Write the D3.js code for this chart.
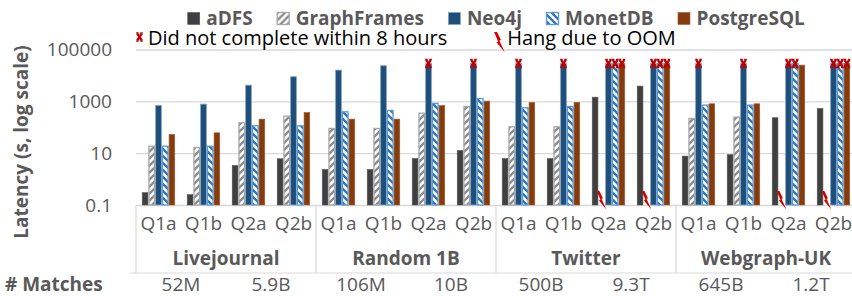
<!DOCTYPE html>
<html><head><meta charset="utf-8">
<script src="https://cdn.jsdelivr.net/npm/d3@7"></script>
<style>body{margin:0;background:#fff}svg{display:block}</style>
</head><body>
<svg id="c" width="852" height="296"></svg>
<script>
// ---------- data ----------
const queries = ["Q1a", "Q1b", "Q2a", "Q2b"];
const datasets = ["Livejournal", "Random 1B", "Twitter", "Webgraph-UK"];
const matches = ["52M", "5.9B", "106M", "10B", "500B", "9.3T", "645B", "1.2T"];
const series = ["aDFS", "GraphFrames", "Neo4j", "MonetDB", "PostgreSQL"];
const DNF = 28800; // did not complete within 8 hours (bar drawn to 8 h)
const aDFS        = [0.30, 0.25, 3.35, 6.1,  2.35, 2.35, 6.2, 12.7,  6.2, 6.2, 1450, 3870,  7.7, 8.7, 233, 530];
const GraphFrames = [18.6, 16.6, 149, 269,   90, 90, 350, 635,      104, 104, null, null,   218, 246, null, null];
const Neo4j       = [690, 780, 4200, 8900,   16000, 23600, DNF, DNF, DNF, DNF, DNF, DNF,    DNF, DNF, DNF, DNF];
const MonetDB     = [18.6, 18.6, 114, 114,   395, 445, 830, 1290,   565, 635, DNF, DNF,     715, 715, DNF, DNF];
const PostgreSQL  = [53, 61, 206, 370,       206, 206, 690, 1020,   910, 910, DNF, DNF,     805, 805, 25000, DNF];
const yTicks = [0.1, 10, 1000, 100000];
const yTickLabels = ["0.1", "10", "1000", "100000"];
const legendNotes = ["Did not complete within 8 hours", "Hang due to OOM"];

const values = {aDFS, GraphFrames, Neo4j, MonetDB, PostgreSQL};
const categories = d3.range(datasets.length * queries.length);

// ---------- setup ----------
const svg = d3.select("#c");
const FONT = "'Open Sans', 'Noto Sans', sans-serif";
const GRAY = "#595959";
const plotL = 136, plotR = 856, plotT = 49.5, plotB = 205;

const x0 = d3.scaleBand().domain(categories).range([plotL, plotR]).padding(0);
const x1 = d3.scaleBand().domain(series).range([0, x0.bandwidth()]).paddingInner(0.15).paddingOuter(0.93);
const y = d3.scaleLog().domain([0.1, 100000]).range([plotB, plotT]);
const xg = d3.scaleBand().domain(datasets).range([plotL, plotR]).padding(0);

// patterns
const defs = svg.append("defs");
function hatch(id, color, dir) {
  const p = defs.append("pattern").attr("id", id).attr("patternUnits", "userSpaceOnUse")
    .attr("width", 7).attr("height", 7);
  p.append("rect").attr("width", 7).attr("height", 7).attr("fill", "#fff");
  p.append("path").attr("d", dir === "up"
      ? "M-1,1 l2,-2 M0,7 l7,-7 M6,8 l2,-2"
      : "M-1,6 l2,2 M0,0 l7,7 M6,-1 l2,2")
    .attr("stroke", color).attr("stroke-width", 2.3);
}
hatch("hGray", "#8c8c8c", "up");
hatch("hBlue", "#2e75b6", "down");

const style = {
  aDFS:        {fill: "#404040", stroke: "#555", sw: 0.6},
  GraphFrames: {fill: "url(#hGray)", stroke: "#a6a6a6", sw: 1.3},
  Neo4j:       {fill: "#1f4e79", stroke: "#7fa3c8", sw: 0.8},
  MonetDB:     {fill: "url(#hBlue)", stroke: "#5b9bd5", sw: 1.3},
  PostgreSQL:  {fill: "#843c0c", stroke: "#a0603a", sw: 0.6}
};

// ---------- grid / y axis ----------
const yAxis = d3.axisLeft(y).tickValues(yTicks)
  .tickFormat((d, i) => yTickLabels[i])
  .tickSize(-(plotR - plotL)).tickPadding(24);
const gy = svg.append("g").attr("transform", `translate(${plotL},0)`).call(yAxis);
gy.select(".domain").remove();
gy.selectAll(".tick line").attr("stroke", "#d9d9d9").attr("stroke-width", 1.4);
gy.selectAll(".tick text").attr("fill", GRAY).style("font-family", FONT).style("font-size", "19px")
  .attr("dy", "0.34em");

svg.append("text").attr("transform", `translate(28,142) rotate(-90)`)
  .attr("text-anchor", "middle").attr("fill", GRAY)
  .style("font-family", FONT).style("font-size", "19px").style("font-weight", "bold")
  .text("Latency (s, log scale)");

// ---------- bars ----------
const markers = [];
const ooms = [];
series.forEach(s => {
  const g = svg.append("g");
  values[s].forEach((v, i) => {
    if (v == null) { ooms.push({s, i}); return; }
    g.append("rect")
      .attr("x", x0(i) + x1(s)).attr("width", x1.bandwidth())
      .attr("y", y(v)).attr("height", y(0.1) - y(v))
      .attr("fill", style[s].fill).attr("stroke", style[s].stroke).attr("stroke-width", style[s].sw);
    if (v === DNF) markers.push({s, i, v});
  });
});

// ---------- symbols ----------
function xMark(sel, cx, cy) {
  const g = sel.append("g").attr("transform", `translate(${cx},${cy})`)
    .attr("stroke", "#c00000").attr("fill", "none");
  g.append("path").attr("d", "M-2.4,-3.6 L2.4,3.6 M2.4,-3.6 L-2.4,3.6").attr("stroke-width", 2.4);
  g.append("path").attr("d", "M-3.3,-4.1 H-0.8 M0.8,-4.1 H3.3 M-3.3,4.1 H-0.8 M0.8,4.1 H3.3").attr("stroke-width", 1.4);
}
function bolt(sel, lx, ty, s) {
  sel.append("path").attr("transform", `translate(${lx},${ty}) scale(${s})`)
    .attr("d", "M0,0 L2.6,0 L6.2,7.2 L4.7,7.8 L9.6,18.5 L2.1,9.4 L3.6,8.8 Z")
    .attr("fill", "#d40000");
}
const gm = svg.append("g");
markers.forEach(m => xMark(gm, x0(m.i) + x1(m.s) + x1.bandwidth() / 2, y(m.v)));
ooms.forEach(o => bolt(gm, x0(o.i) + x1(o.s) + x1.bandwidth() / 2 - 5, 191, 1));

// ---------- x axis ----------
const xAxis = d3.axisBottom(x0).tickFormat(i => queries[i % queries.length]).tickSize(0).tickPadding(12);
const gx = svg.append("g").attr("transform", `translate(0,${plotB})`).call(xAxis);
gx.select(".domain").remove();
gx.selectAll(".tick text").attr("fill", GRAY).style("font-family", FONT).style("font-size", "19px");

// group separators
svg.append("g").selectAll("line").data(d3.range(datasets.length + 1)).join("line")
  .attr("x1", i => plotL + i * xg.bandwidth()).attr("x2", i => plotL + i * xg.bandwidth())
  .attr("y1", plotB).attr("y2", 273).attr("stroke", "#d9d9d9").attr("stroke-width", 1.2);
svg.append("line").attr("x1", 130).attr("x2", 852).attr("y1", 273).attr("y2", 273)
  .attr("stroke", "#d9d9d9").attr("stroke-width", 1.2);

svg.append("g").selectAll("text").data(datasets).join("text")
  .attr("x", d => xg(d) + xg.bandwidth() / 2).attr("y", 265)
  .attr("text-anchor", "middle").attr("fill", GRAY)
  .style("font-family", FONT).style("font-size", "19px").style("font-weight", "bold")
  .text(d => d);

// matches row
svg.append("text").attr("x", 5).attr("y", 291).attr("fill", GRAY)
  .style("font-family", FONT).style("font-size", "19px").style("font-weight", "bold").text("# Matches");
svg.append("g").selectAll("text").data(matches).join("text")
  .attr("x", (d, i) => x0(i * 2 + 1)).attr("y", 291)
  .attr("text-anchor", "middle").attr("fill", GRAY)
  .style("font-family", FONT).style("font-size", "19px").text(d => d);

// ---------- legend row 1 ----------
const lg = svg.append("g");
let cx = 0;
series.forEach(s => {
  const it = lg.append("g").attr("transform", `translate(${cx},0)`);
  it.append("rect").attr("x", 0.5).attr("y", 12.5).attr("width", 12).attr("height", 12)
    .attr("fill", style[s].fill).attr("stroke", style[s].stroke).attr("stroke-width", style[s].sw);
  const t = it.append("text").attr("x", 19).attr("y", 24.5).attr("fill", GRAY)
    .style("font-family", FONT).style("font-size", "19px").style("font-weight", "bold").text(s);
  cx += 19 + t.node().getComputedTextLength() + 24;
});
const totalW = cx - 24;
lg.attr("transform", `translate(${(plotL + plotR) / 2 - totalW / 2},0)`);

// ---------- legend row 2 ----------
const l2 = svg.append("g");
xMark(l2, 139.5, 37);
const t1 = l2.append("text").attr("x", 148).attr("y", 45).attr("fill", "#000")
  .style("font-family", FONT).style("font-size", "20px").text(legendNotes[0]);
const bx = 148 + t1.node().getComputedTextLength() + 47;
bolt(l2, bx, 32, 1.1);
l2.append("text").attr("x", bx + 13).attr("y", 45).attr("fill", "#000")
  .style("font-family", FONT).style("font-size", "20px").text(legendNotes[1]);
</script>
</body></html>
